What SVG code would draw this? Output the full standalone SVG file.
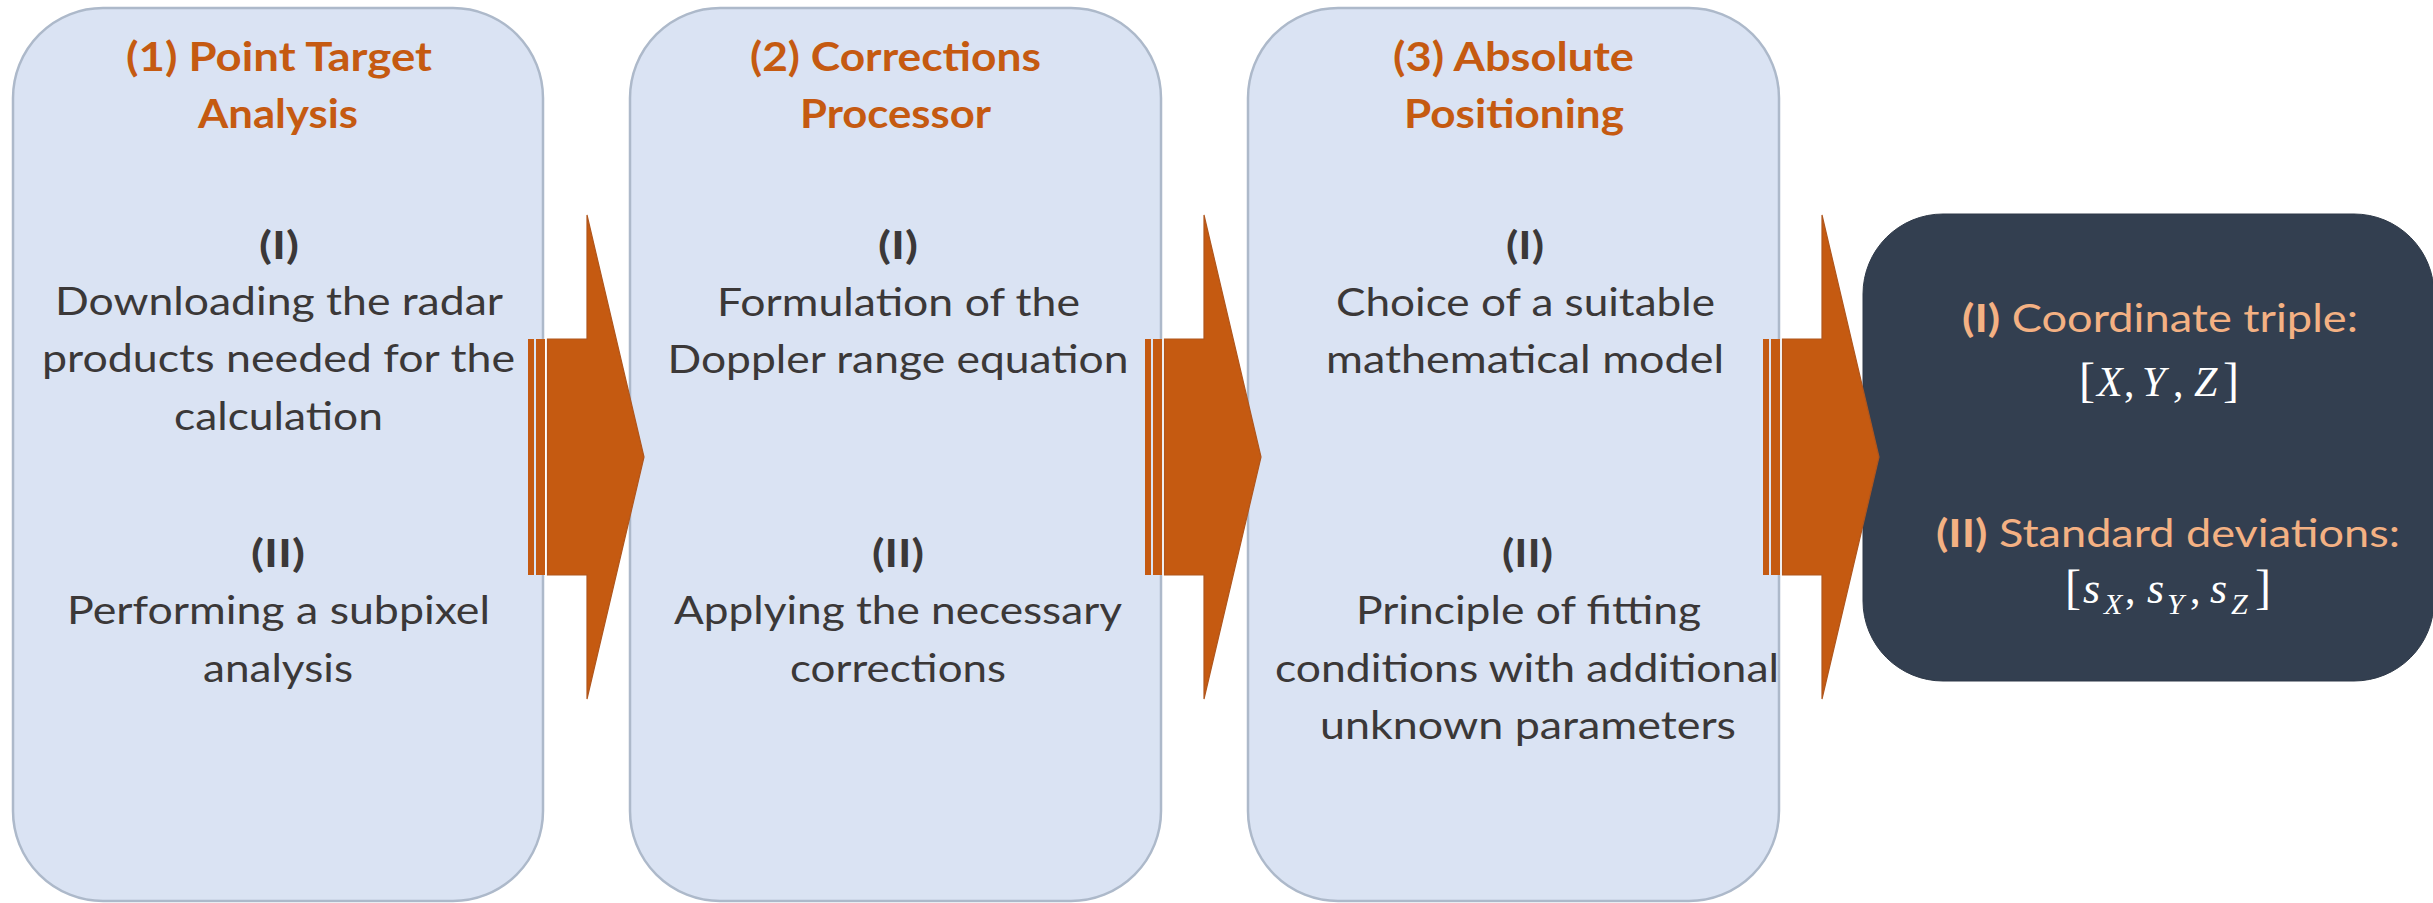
<svg xmlns="http://www.w3.org/2000/svg" xmlns:xlink="http://www.w3.org/1999/xlink" width="2433" height="903" viewBox="0 0 2433 903">
<style>
.box{fill:#DAE3F3;stroke:#ADB9CA;stroke-width:2.5}
.dark{fill:#333F50;stroke:#2E3948;stroke-width:1}
.t{font-family:Lato,"Open Sans","Liberation Sans",sans-serif;font-weight:700;font-size:40px;fill:#C55A11;text-anchor:middle}
.n{font-family:Lato,"Open Sans","Liberation Sans",sans-serif;font-weight:700;font-size:39px;fill:#3B3838;text-anchor:middle}
.b{font-family:Lato,"Open Sans","Liberation Sans",sans-serif;font-weight:400;font-size:39px;fill:#3B3838;text-anchor:middle}
.o{font-family:Lato,"Open Sans","Liberation Sans",sans-serif;font-weight:400;font-size:39px;fill:#F4B183}
.m{font-family:"Liberation Serif","DejaVu Serif",serif;font-size:42px;fill:#FFFFFF}
.i{font-style:italic}
.br{font-size:48px}
.sub{font-style:italic;font-size:30px}
.arrow{fill:#C55A11;stroke:#B0561D;stroke-width:1.2}
.stripe{fill:#C55A11}
</style>
<defs>
<g id="stripedArrow">
<rect class="stripe" x="0" y="-118" width="6" height="236"/>
<rect class="stripe" x="8" y="-118" width="9" height="236"/>
<polygon class="arrow" points="19.5,-118 59,-118 59,-242 116,0 59,242 59,118 19.5,118"/>
</g>
</defs>

<g id="node-point-target-analysis">
<rect class="box" x="13" y="8" width="530" height="893" rx="90" ry="90"/>
<text class="t" x="279" y="71" textLength="306" lengthAdjust="spacingAndGlyphs">(1) Point Target</text>
<text class="t" x="278" y="128" textLength="160" lengthAdjust="spacingAndGlyphs">Analysis</text>
<text class="n" x="279" y="259" textLength="40" lengthAdjust="spacingAndGlyphs">(I)</text>
<text class="b" x="279" y="315" textLength="448" lengthAdjust="spacingAndGlyphs">Downloading the radar</text>
<text class="b" x="278.5" y="372" textLength="473" lengthAdjust="spacingAndGlyphs">products needed for the</text>
<text class="b" x="278.5" y="430" textLength="209" lengthAdjust="spacingAndGlyphs">calculation</text>
<text class="n" x="278" y="567" textLength="54" lengthAdjust="spacingAndGlyphs">(II)</text>
<text class="b" x="278.5" y="624" textLength="423" lengthAdjust="spacingAndGlyphs">Performing a subpixel</text>
<text class="b" x="278" y="682" textLength="150" lengthAdjust="spacingAndGlyphs">analysis</text>
</g>

<g id="node-corrections-processor">
<rect class="box" x="630" y="8" width="531" height="893" rx="90" ry="90"/>
<text class="t" x="895.5" y="71" textLength="291" lengthAdjust="spacingAndGlyphs">(2) Corrections</text>
<text class="t" x="895.5" y="128" textLength="191" lengthAdjust="spacingAndGlyphs">Processor</text>
<text class="n" x="898" y="259" textLength="40" lengthAdjust="spacingAndGlyphs">(I)</text>
<text class="b" x="898.5" y="316" textLength="363" lengthAdjust="spacingAndGlyphs">Formulation of the</text>
<text class="b" x="898" y="373" textLength="461" lengthAdjust="spacingAndGlyphs">Doppler range equation</text>
<text class="n" x="898" y="567" textLength="52" lengthAdjust="spacingAndGlyphs">(II)</text>
<text class="b" x="898" y="624" textLength="448" lengthAdjust="spacingAndGlyphs">Applying the necessary</text>
<text class="b" x="898" y="682" textLength="216" lengthAdjust="spacingAndGlyphs">corrections</text>
</g>

<g id="node-absolute-positioning">
<rect class="box" x="1248" y="8" width="531" height="893" rx="90" ry="90"/>
<text class="t" x="1513.5" y="71" textLength="241" lengthAdjust="spacingAndGlyphs">(3) Absolute</text>
<text class="t" x="1514" y="128" textLength="220" lengthAdjust="spacingAndGlyphs">Positioning</text>
<text class="n" x="1525" y="259" textLength="38" lengthAdjust="spacingAndGlyphs">(I)</text>
<text class="b" x="1525.5" y="316" textLength="379" lengthAdjust="spacingAndGlyphs">Choice of a suitable</text>
<text class="b" x="1525" y="373" textLength="398" lengthAdjust="spacingAndGlyphs">mathematical model</text>
<text class="n" x="1527.5" y="567" textLength="51" lengthAdjust="spacingAndGlyphs">(II)</text>
<text class="b" x="1528.5" y="624" textLength="345" lengthAdjust="spacingAndGlyphs">Principle of fitting</text>
<text class="b" x="1527" y="682" textLength="504" lengthAdjust="spacingAndGlyphs">conditions with additional</text>
<text class="b" x="1528" y="739" textLength="416" lengthAdjust="spacingAndGlyphs">unknown parameters</text>
</g>

<g id="node-results">
<rect class="dark" x="1863" y="214" width="571" height="467" rx="80" ry="80"/>
<text class="o" x="1962" y="332" textLength="396" lengthAdjust="spacingAndGlyphs"><tspan font-weight="700">(I)</tspan> Coordinate triple:</text>
<text class="m" y="396"><tspan class="br" x="2079">[</tspan><tspan class="i" x="2097">X</tspan><tspan x="2124">,</tspan><tspan class="i" x="2142">Y</tspan><tspan x="2173">,</tspan><tspan class="i" x="2194">Z</tspan><tspan class="br" x="2223">]</tspan></text>
<text class="o" x="1936" y="547" textLength="464" lengthAdjust="spacingAndGlyphs"><tspan font-weight="700">(II)</tspan> Standard deviations:</text>
<text class="m" y="603"><tspan class="br" x="2065" y="603">[</tspan><tspan class="i" x="2083" y="603" font-size="44">s</tspan><tspan class="sub" x="2104" y="614">X</tspan><tspan x="2125" y="603">,</tspan><tspan class="i" x="2147" y="603" font-size="44">s</tspan><tspan class="sub" x="2167" y="614">Y</tspan><tspan x="2190" y="603">,</tspan><tspan class="i" x="2210" y="603" font-size="44">s</tspan><tspan class="sub" x="2231" y="614">Z</tspan><tspan class="br" x="2255" y="603">]</tspan></text>
</g>

<g id="connectors">
<use xlink:href="#stripedArrow" href="#stripedArrow" transform="translate(528,457)"/>
<use xlink:href="#stripedArrow" href="#stripedArrow" transform="translate(1145,457)"/>
<use xlink:href="#stripedArrow" href="#stripedArrow" transform="translate(1763,457)"/>
</g>
</svg>
